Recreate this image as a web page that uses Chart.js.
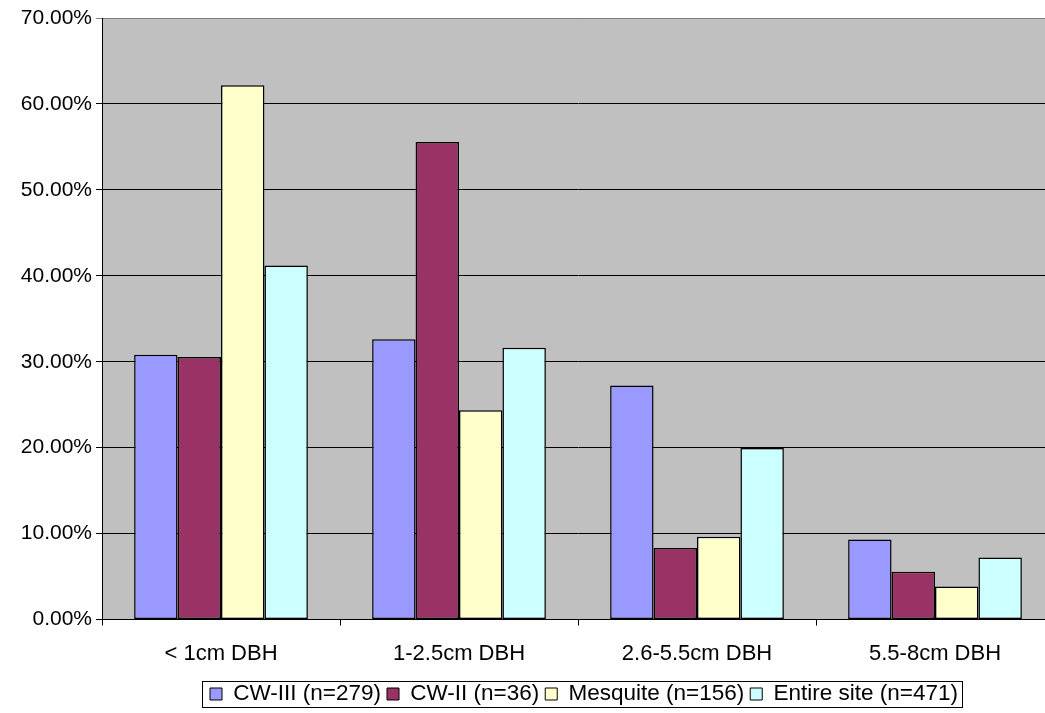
<!DOCTYPE html>
<html>
<head>
<meta charset="utf-8">
<script src="https://cdn.jsdelivr.net/npm/chart.js@4/dist/chart.umd.min.js"></script>
<style>
html,body{margin:0;padding:0;background:#fff;overflow:hidden;}
#wrap{width:1045px;height:713px;overflow:hidden;}
canvas{display:block;}
</style>
</head>
<body>
<div id="wrap"><canvas id="c" width="1054" height="713"></canvas></div>
<script>
const categories = ['< 1cm DBH', '1-2.5cm DBH', '2.6-5.5cm DBH', '5.5-8cm DBH'];
const cw3 = [30.82, 32.62, 27.24, 9.32];
const cw2 = [30.56, 55.56, 8.33, 5.56];
const mesquite = [62.18, 24.36, 9.62, 3.85];
const entire = [41.19, 31.63, 19.96, 7.22];
const seriesNames = ['CW-III (n=279)', 'CW-II (n=36)', 'Mesquite (n=156)', 'Entire site (n=471)'];
const seriesColors = ['#9999FF', '#993366', '#FFFFCC', '#CCFFFF'];
const yTicks = [0, 10, 20, 30, 40, 50, 60, 70];

const FONT = 'Liberation Sans, Arial, sans-serif';

const plotBg = {
  id: 'plotBg',
  afterUpdate(chart) {
    const lg = chart.legend;
    if (!lg || !lg.legendHitBoxes || !lg.legendHitBoxes.length) return;
    const hb = lg.legendHitBoxes;
    const dx = 210 - hb[0].left;
    const dy = 694 - (hb[0].top + hb[0].height / 2);
    lg.left += dx; lg.right += dx; lg.top += dy; lg.bottom += dy;
    hb.forEach(h => { h.left += dx; h.top += dy; });
  },
  beforeDraw(chart) {
    const a = chart.chartArea, ctx = chart.ctx;
    ctx.save();
    ctx.fillStyle = '#C0C0C0';
    ctx.fillRect(a.left, a.top, a.right - a.left, a.bottom - a.top);
    ctx.restore();
  },
  afterDraw(chart) {
    const lg = chart.legend;
    if (!lg || !lg.legendHitBoxes || !lg.legendHitBoxes.length) return;
    const boxes = lg.legendHitBoxes;
    let l = Infinity, r = -Infinity, c = 0;
    boxes.forEach(h => { l = Math.min(l, h.left); r = Math.max(r, h.left + h.width); });
    c = boxes[0].top + boxes[0].height / 2;
    const ctx = chart.ctx;
    ctx.save();
    ctx.strokeStyle = '#000';
    ctx.lineWidth = 1;
    ctx.strokeRect(Math.round(l - 8) + 0.5, Math.round(c - 13) + 0.5, Math.round(r - l + 12), 26);
    ctx.restore();
  }
};

const datasets = [cw3, cw2, mesquite, entire].map((d, i) => ({
  label: seriesNames[i],
  data: d,
  backgroundColor: seriesColors[i],
  borderColor: '#000',
  borderWidth: 1.5,
  borderSkipped: false,
  categoryPercentage: 0.73,
  barPercentage: 1.0
}));

new Chart(document.getElementById('c'), {
  type: 'bar',
  data: { labels: categories, datasets },
  options: {
    responsive: false,
    animation: false,
    devicePixelRatio: 1,
    layout: { padding: { top: 18, right: 0, left: 0, bottom: 0 } },
    plugins: {
      legend: {
        position: 'bottom',
        maxHeight: 40,
        labels: {
          font: { family: FONT, size: 22.5 },
          color: '#000',
          boxWidth: 12,
          boxHeight: 12,
          padding: 6,
          generateLabels(chart) {
            return chart.data.datasets.map((ds, i) => ({
              text: ds.label,
              fillStyle: ds.backgroundColor,
              strokeStyle: '#000',
              lineWidth: 1,
              hidden: false,
              datasetIndex: i,
              fontColor: '#000'
            }));
          }
        }
      },
      tooltip: { enabled: false }
    },
    scales: {
      x: {
        offset: true,
        afterFit(scale) { scale.height = 55; },
        ticks: { font: { family: FONT, size: 22 }, color: '#000', padding: 15 },
        grid: { offset: true, drawOnChartArea: false, drawTicks: true, tickLength: 6, color: '#000' },
        border: { color: '#000', width: 1 }
      },
      y: {
        min: 0,
        max: 70,
        afterFit(scale) { scale.width = 102; },
        afterBuildTicks(scale) { scale.ticks = yTicks.map(v => ({ value: v })); },
        ticks: {
          font: { family: FONT, size: 21 },
          color: '#000',
          padding: 4,
          callback: v => v.toFixed(2) + '%'
        },
        grid: {
          color: ctx => (ctx.tick && ctx.tick.value === 70) ? '#808080' : '#000',
          lineWidth: 1,
          tickLength: 6
        },
        border: { color: '#000', width: 1 }
      }
    }
  },
  plugins: [plotBg]
});
</script>
</body>
</html>
